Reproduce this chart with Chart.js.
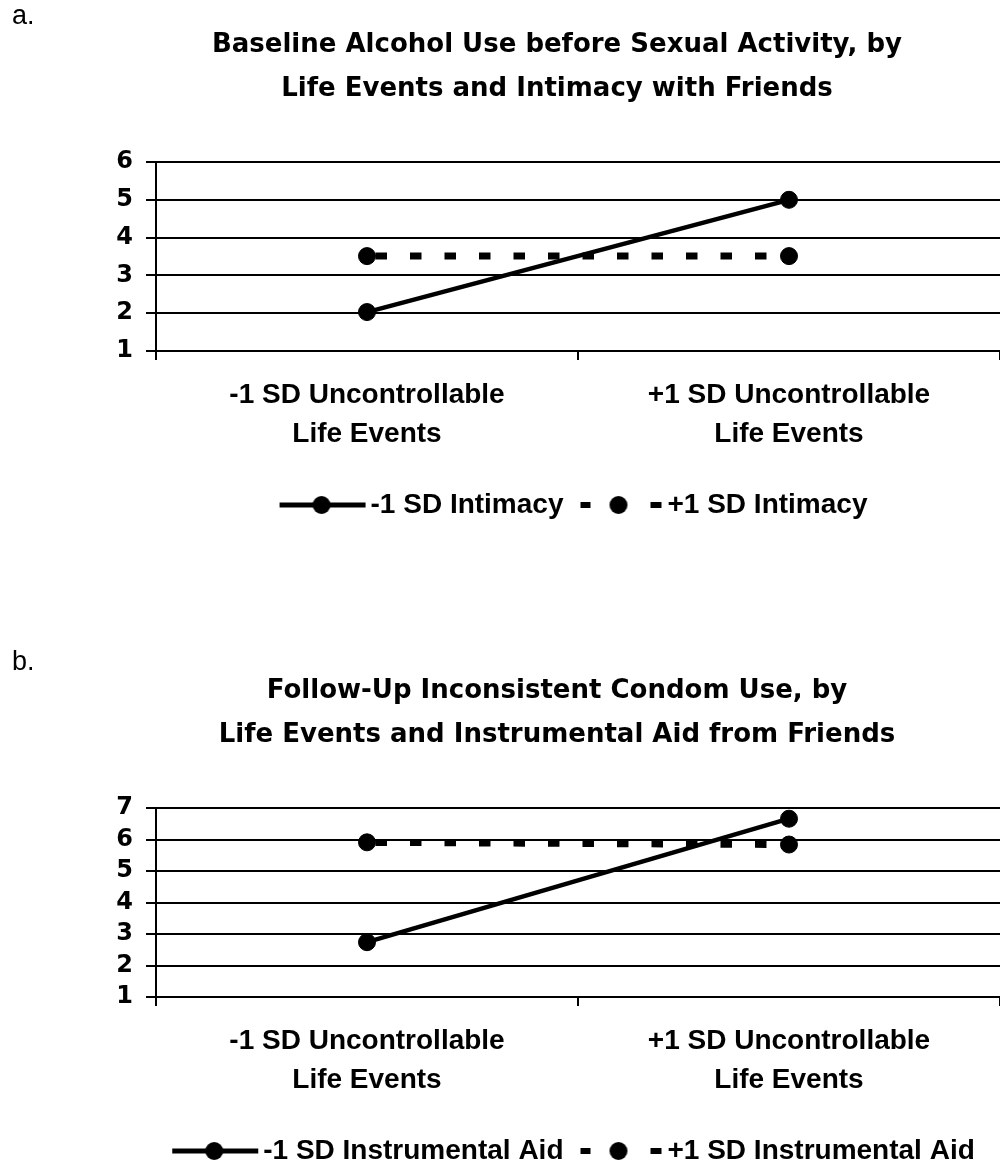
<!DOCTYPE html>
<html>
<head>
<meta charset="utf-8">
<script src="https://cdn.jsdelivr.net/npm/chart.js@4.4.1/dist/chart.umd.min.js"></script>
<style>
  html, body { margin: 0; padding: 0; background: #fff; width: 1000px; height: 1169px; overflow: hidden; }
  .panel { position: absolute; left: 0; width: 1000px; height: 529px; }
  .panel canvas { position: absolute; left: 0; top: 0; }
  .tag { position: absolute; left: 12px; top: 2px; z-index: 1; color: #000;
         font: 27px/27px "Liberation Sans", Arial, sans-serif; }
</style>
</head>
<body>
<div class="panel" style="top:0"><div class="tag">a.</div><canvas id="chartA" width="1000" height="529"></canvas></div>
<div class="panel" style="top:646px"><div class="tag">b.</div><canvas id="chartB" width="1000" height="529"></canvas></div>
<script>
// categories shared by both panels
const lifeEvents = [['-1 SD Uncontrollable', 'Life Events'], ['+1 SD Uncontrollable', 'Life Events']];

// panel a
const titleA = ['Baseline Alcohol Use before Sexual Activity, by', 'Life Events and Intimacy with Friends'];
const seriesA = ['-1 SD Intimacy', '+1 SD Intimacy'];
const intimacyLow = [2.03, 5.0];
const intimacyHigh = [3.51, 3.51];
const yRangeA = [1, 6];

// panel b
const titleB = ['Follow-Up Inconsistent Condom Use, by', 'Life Events and Instrumental Aid from Friends'];
const seriesB = ['-1 SD Instrumental Aid', '+1 SD Instrumental Aid'];
const aidLow = [2.74, 6.66];
const aidHigh = [5.91, 5.84];
const yRangeB = [1, 7];

const ARIAL = '"Liberation Sans", Arial, sans-serif';
const WIDE = '"DejaVu Sans", sans-serif';
const TITLE_CENTER = 557;

Chart.defaults.color = '#000';
Chart.defaults.font.family = ARIAL;

// excel-like legend keys: line + marker in the middle
function legendIcon(dashed) {
  const c = document.createElement('canvas');
  c.width = 90; c.height = 20;
  const g = c.getContext('2d');
  g.fillStyle = '#000';
  if (dashed) {
    g.fillRect(7, 7, 10, 6);
    g.fillRect(77, 7, 11, 6);
  } else {
    g.fillRect(3, 7.5, 86, 5);
  }
  g.beginPath();
  g.arc(45, 10, 9, 0, Math.PI * 2);
  g.fill();
  return c;
}
const icons = [legendIcon(false), legendIcon(true)];

// title sits a bit right of the page centre, legend is centred under the plot
const centerBlocks = {
  id: 'centerBlocks',
  afterLayout(chart) {
    chart.titleBlock.left = 2 * TITLE_CENTER - chart.titleBlock.right;
    chart.legend.left = chart.chartArea.left - 2;
  }
};

function makeChart(id, title, names, low, high, yRange) {
  return new Chart(document.getElementById(id), {
    type: 'line',
    data: {
      labels: lifeEvents,
      datasets: [
        {
          label: names[0], data: low,
          borderColor: '#000', backgroundColor: '#000', borderWidth: 4.5,
          pointRadius: 8.5, pointBorderWidth: 1, pointBackgroundColor: '#000', pointBorderColor: '#000'
        },
        {
          label: names[1], data: high,
          borderColor: '#000', backgroundColor: '#000', borderWidth: 7,
          borderDash: [11.5, 23], borderDashOffset: 26,
          pointRadius: 8.5, pointBorderWidth: 1, pointBackgroundColor: '#000', pointBorderColor: '#000'
        }
      ]
    },
    options: {
      responsive: false,
      animation: false,
      layout: { padding: 0, autoPadding: false },
      plugins: {
        title: {
          display: true, text: title, color: '#000',
          font: { family: WIDE, weight: 'bold', size: 26, lineHeight: 44 / 26 },
          padding: { top: 23, bottom: 51 }
        },
        legend: {
          position: 'bottom',
          labels: {
            usePointStyle: true, pointStyleWidth: 70, padding: 20, color: '#000',
            font: { family: ARIAL, weight: 'bold', size: 28 },
            generateLabels: (chart) => Chart.defaults.plugins.legend.labels.generateLabels(chart)
              .map((item, i) => Object.assign(item, { pointStyle: icons[i] }))
          }
        },
        tooltip: { enabled: false }
      },
      scales: {
        x: {
          offset: true,
          grid: { offset: true, drawOnChartArea: false, drawTicks: true, tickLength: 9, color: '#000', lineWidth: 2 },
          border: { display: true, color: '#000', width: 2 },
          ticks: {
            color: '#000', padding: 16, maxRotation: 0, autoSkip: false,
            font: { family: ARIAL, weight: 'bold', size: 28, lineHeight: 39 / 28 }
          },
          afterFit: (s) => { s.height = 120; s.paddingLeft = 0; s.paddingRight = 0; }
        },
        y: {
          min: yRange[0], max: yRange[1],
          grid: { color: '#000', lineWidth: 2, tickLength: 10 },
          border: { display: true, color: '#000', width: 2 },
          ticks: { stepSize: 1, autoSkip: false, padding: 13, color: '#000', font: { family: WIDE, weight: 'bold', size: 24 } },
          afterFit: (s) => { s.width = 156; }
        }
      }
    },
    plugins: [centerBlocks]
  });
}

makeChart('chartA', titleA, seriesA, intimacyLow, intimacyHigh, yRangeA);
makeChart('chartB', titleB, seriesB, aidLow, aidHigh, yRangeB);
</script>
</body>
</html>
